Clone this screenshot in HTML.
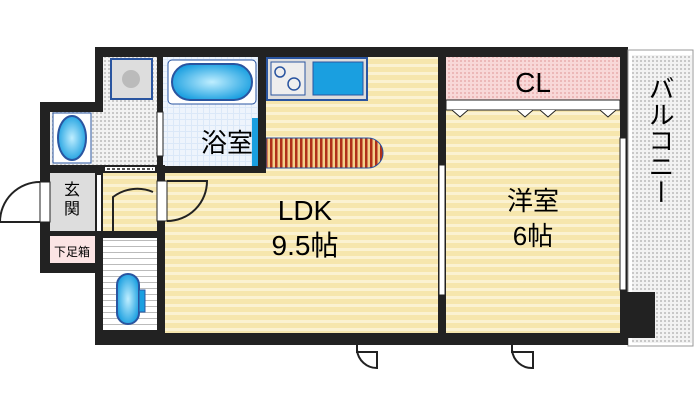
<!DOCTYPE html>
<html><head><meta charset="utf-8"><style>
html,body{margin:0;padding:0;background:#fff;width:700px;height:415px;overflow:hidden}
svg{display:block}
text{font-family:"Liberation Sans","Noto Sans CJK JP",sans-serif}
</style></head><body>
<svg width="700" height="415" viewBox="0 0 700 415" xmlns="http://www.w3.org/2000/svg">
<defs>
<pattern id="fl" width="8" height="8" patternUnits="userSpaceOnUse"><rect width="8" height="8" fill="#f6e6ad"/><rect width="8" height="3" fill="#fbf2d2"/></pattern>
<pattern id="dot" width="4" height="4" patternUnits="userSpaceOnUse"><rect width="4" height="4" fill="#f2f2f2"/><rect width="2" height="2" fill="#c8c8c8"/></pattern>
<pattern id="pk" width="4" height="4" patternUnits="userSpaceOnUse"><rect width="4" height="4" fill="#f8d8d8"/><rect width="2" height="2" fill="#ecb8b8"/></pattern>
<pattern id="tile" width="6" height="6" patternUnits="userSpaceOnUse"><rect width="6" height="6" fill="#dbe8f8"/><rect width="5" height="5" fill="#eef4fc"/></pattern>
<pattern id="rug" width="5" height="5" patternUnits="userSpaceOnUse"><rect width="5" height="5" fill="#f4d08a"/><rect width="2.5" height="5" fill="#b03018"/></pattern>
<pattern id="st" width="6" height="6" patternUnits="userSpaceOnUse"><rect width="6" height="6" fill="#fff"/><rect width="6" height="1" fill="#bbb"/></pattern>
<radialGradient id="bl" cx="50%" cy="50%" r="55%"><stop offset="0" stop-color="#bfeeff"/><stop offset="1" stop-color="#1a9fe0"/></radialGradient>
</defs>
<path d="M95,47 H628 V345 H158 V333 H95 V273 H40 V102 H95 Z" fill="#222"/>
<rect x="165" y="57" width="273" height="276" fill="url(#fl)"/>
<rect x="446" y="100" width="174" height="233" fill="url(#fl)"/>
<rect x="446" y="57" width="174" height="43" fill="url(#pk)"/>
<rect x="103" y="57" width="54" height="108" fill="url(#dot)"/>
<rect x="50" y="112" width="107" height="53" fill="url(#dot)"/>
<rect x="163" y="57" width="95" height="109" fill="url(#tile)"/>
<rect x="103" y="172" width="54" height="62" fill="url(#fl)"/>
<rect x="103" y="238" width="54" height="92" fill="url(#st)"/>
<rect x="50" y="173" width="45" height="58" fill="#ddd"/>
<rect x="50" y="236" width="45" height="27" fill="#fbe4e4"/>
<!-- washer -->
<rect x="111" y="59" width="41" height="40" fill="#ddd" stroke="#2a55a0" stroke-width="2"/>
<circle cx="131" cy="79" r="9" fill="#bbb"/>
<!-- wash basin -->
<rect x="53" y="113" width="38" height="50" fill="#fff" stroke="#2a55a0"/>
<ellipse cx="72" cy="138" rx="14" ry="22" fill="url(#bl)" stroke="#2a55a0" stroke-width="2"/>
<!-- bath -->
<rect x="168" y="60" width="88" height="44" rx="4" fill="#fff" stroke="#2a55a0"/>
<rect x="172" y="64" width="80" height="36" rx="18" fill="url(#bl)" stroke="#2a55a0" stroke-width="2"/>
<text x="201" y="152" font-size="26">浴室</text>
<rect x="252" y="118" width="6" height="48" fill="#1a9fe0"/>
<!-- kitchen -->
<rect x="267" y="58" width="100" height="42" fill="#ddd" stroke="#2a55a0" stroke-width="2"/>
<rect x="271" y="62" width="34" height="33" fill="#eee" stroke="#2a55a0"/>
<circle cx="280" cy="72" r="5" fill="none" stroke="#2a55a0" stroke-width="1.5"/>
<circle cx="294" cy="84" r="6" fill="none" stroke="#2a55a0" stroke-width="1.5"/>
<rect x="313" y="62" width="50" height="33" fill="#1a9fe0" stroke="#2a55a0"/>
<path d="M266,138 H368 A15,15 0 0 1 368,168 H266 Z" fill="url(#rug)" stroke="#2a55a0"/>
<!-- interior walls -->
<rect x="258" y="57" width="8" height="116" fill="#222"/>
<rect x="157" y="166" width="109" height="7" fill="#222"/>
<rect x="157" y="57" width="6" height="116" fill="#222"/>
<rect x="158" y="173" width="7" height="170" fill="#222"/>
<rect x="157" y="112" width="6" height="44" fill="#fff" stroke="#222"/>
<rect x="40" y="165" width="125" height="8" fill="#222"/>
<rect x="105" y="167" width="50" height="4" fill="#fff"/>
<path d="M107,169 H153" stroke="#222" stroke-width="1.5" stroke-dasharray="3,2"/>
<rect x="95" y="231" width="62" height="6" fill="#222"/>
<rect x="95" y="165" width="8" height="168" fill="#222"/>
<rect x="97" y="175" width="4" height="56" fill="#fff"/>
<rect x="438" y="57" width="8" height="276" fill="#222"/>
<rect x="439" y="165" width="6" height="130" fill="#fff" stroke="#222"/>
<rect x="446" y="100" width="174" height="10" fill="#fff" stroke="#222"/>
<path d="M452,110 l8,7 l8,-7 M517,110 l8,7 l8,-7 M540,110 l8,7 l8,-7 M600,110 l8,7 l8,-7" fill="#fff" stroke="#222"/>
<rect x="620" y="57" width="8" height="276" fill="#222"/>
<rect x="620" y="138" width="6" height="152" fill="#fff" stroke="#222"/>
<rect x="628" y="50" width="65" height="296" fill="#fff" stroke="#999"/>
<rect x="632" y="55" width="60" height="288" fill="url(#dot)"/>
<rect x="620" y="292" width="35" height="46" fill="#222"/>
<rect x="95" y="333" width="533" height="12" fill="#222"/>
<!-- toilet -->
<rect x="117" y="274" width="22" height="50" rx="11" fill="url(#bl)" stroke="#2a55a0" stroke-width="2"/>
<rect x="139" y="290" width="6" height="22" fill="#1a9fe0" stroke="#2a55a0"/>
<!-- doors -->
<path d="M40,222 H0 A40,40 0 0 1 40,182" fill="#fff" stroke="#222" stroke-width="2"/>
<rect x="40" y="182" width="10" height="40" fill="#fff" stroke="#222"/>
<path d="M113,231 V197 A40,40 0 0 1 153,192" fill="none" stroke="#222" stroke-width="2"/>
<rect x="157" y="181" width="10" height="40" fill="#fff" stroke="#222"/>
<path d="M167,221 A40,40 0 0 0 207,181 H167" fill="none" stroke="#222" stroke-width="2"/>
<path d="M357,345 V352 H377 V368 A20,20 0 0 1 357,350" fill="#fff" stroke="#222" stroke-width="2"/>
<path d="M512,345 V352 H533 V368 A20,20 0 0 1 512,350" fill="#fff" stroke="#222" stroke-width="2"/>
<text x="305" y="220" font-size="28" text-anchor="middle">LDK</text>
<text x="305" y="255" font-size="28" text-anchor="middle">9.5帖</text>
<text x="533" y="210" font-size="26" text-anchor="middle">洋室</text>
<text x="533" y="245" font-size="26" text-anchor="middle">6帖</text>
<text x="533" y="92" font-size="28" text-anchor="middle">CL</text>
<text x="72" y="195" font-size="16" text-anchor="middle">玄</text>
<text x="72" y="214" font-size="16" text-anchor="middle">関</text>
<text x="72" y="256" font-size="12" text-anchor="middle">下足箱</text>
<text x="660" y="140" font-size="26" text-anchor="middle" writing-mode="tb">バルコニー</text>
</svg>
</body></html>
